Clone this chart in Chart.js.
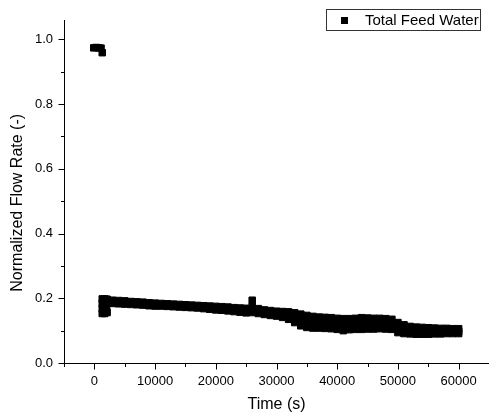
<!DOCTYPE html>
<html>
<head>
<meta charset="utf-8">
<script src="https://cdn.jsdelivr.net/npm/chart.js@4/dist/chart.umd.min.js"></script>
<style>
html,body{margin:0;padding:0;background:#fff;}
canvas{display:block;}
</style>
</head>
<body>
<canvas id="c" width="489" height="416"></canvas>
<script>
// ---- data ----
const seriesLabel = "Total Feed Water";
const xTitle = "Time (s)";
const yTitle = "Normalized Flow Rate (-)";
const xTickValues = [0, 10000, 20000, 30000, 40000, 50000, 60000];
const yTickValues = [0.0, 0.2, 0.4, 0.6, 0.8, 1.0];

// start-up points (near full flow)
const startTime = [-100, 300, 700, 1100, 1300];
const startFlow = [0.974, 0.975, 0.974, 0.973, 0.959];

// transient drop after start-up
const dropTime = [1300, 1300, 1300, 1300, 1700, 1700, 2100, 2100];
const dropFlow = [0.198, 0.184, 0.168, 0.153, 0.153, 0.198, 0.156, 0.197];

// main band (upper, middle and lower edges of the scatter)
const bandTime = [2000, 3000, 4000, 5000, 6000, 7000, 8000, 9000, 10000, 11000,
  12000, 13000, 14000, 15000, 16000, 17000, 18000, 19000, 20000, 21000,
  22000, 23000, 24000, 25000, 26000, 27000, 28000, 29000, 30000, 31000,
  32000, 33000, 34000, 35000, 36000, 37000, 38000, 39000, 40000, 41000,
  42000, 43000, 44000, 45000, 46000, 47000, 48000, 49000, 50000, 51000,
  52000, 53000, 54000, 55000, 56000, 57000, 58000, 59000, 60000];
const flowUpper = [0.196, 0.194, 0.193, 0.192, 0.190, 0.189, 0.188, 0.186, 0.185, 0.184,
  0.183, 0.182, 0.181, 0.180, 0.179, 0.178, 0.177, 0.176, 0.175, 0.174,
  0.173, 0.171, 0.170, 0.169, 0.194, 0.168, 0.164, 0.162, 0.160, 0.159,
  0.158, 0.155, 0.151, 0.147, 0.144, 0.142, 0.141, 0.140, 0.138, 0.137,
  0.137, 0.138, 0.140, 0.139, 0.138, 0.138, 0.137, 0.135, 0.125, 0.118,
  0.113, 0.111, 0.110, 0.109, 0.108, 0.107, 0.107, 0.106, 0.106];
const flowMid = [0.175, 0.189, 0.188, 0.187, 0.185, 0.184, 0.183, 0.181, 0.180, 0.180,
  0.179, 0.178, 0.177, 0.176, 0.175, 0.174, 0.172, 0.171, 0.169, 0.168,
  0.167, 0.165, 0.163, 0.162, 0.175, 0.160, 0.157, 0.155, 0.152, 0.150,
  0.146, 0.140, 0.133, 0.128, 0.126, 0.125, 0.124, 0.123, 0.121, 0.118,
  0.119, 0.121, 0.122, 0.122, 0.121, 0.121, 0.120, 0.119, 0.110, 0.104,
  0.101, 0.100, 0.099, 0.099, 0.099, 0.098, 0.099, 0.098, 0.098];
const flowLower = [0.160, 0.184, 0.183, 0.182, 0.181, 0.180, 0.179, 0.177, 0.176, 0.176,
  0.175, 0.174, 0.173, 0.172, 0.171, 0.170, 0.168, 0.166, 0.164, 0.163,
  0.161, 0.159, 0.157, 0.155, 0.156, 0.153, 0.150, 0.147, 0.145, 0.141,
  0.135, 0.125, 0.115, 0.110, 0.108, 0.108, 0.107, 0.106, 0.104, 0.100,
  0.103, 0.104, 0.104, 0.105, 0.105, 0.106, 0.105, 0.104, 0.094, 0.091,
  0.090, 0.089, 0.089, 0.089, 0.090, 0.090, 0.091, 0.091, 0.091];

// ---- build points ----
const points = [];
startTime.forEach((t, i) => points.push({x: t, y: startFlow[i]}));
dropTime.forEach((t, i) => points.push({x: t, y: dropFlow[i]}));
bandTime.forEach((t, i) => {
  points.push({x: t, y: flowUpper[i]});
  points.push({x: t, y: flowMid[i]});
  points.push({x: t, y: flowLower[i]});
});

const FONT = "'Liberation Sans', Arial, sans-serif";

const axesPlugin = {
  id: 'originAxes',
  afterDraw(chart) {
    const {ctx, chartArea: a, scales: {x, y}} = chart;
    ctx.save();
    ctx.strokeStyle = '#000';
    ctx.lineWidth = 1;
    ctx.beginPath();
    const ax = Math.round(a.left) + 0.5;
    const ay = Math.round(a.bottom) + 0.5;
    ctx.moveTo(ax, a.top);
    ctx.lineTo(ax, ay);
    ctx.lineTo(a.right, ay);
    for (let v = -5000; v <= 65000; v += 5000) {
      const px = Math.round(x.getPixelForValue(v)) + 0.5;
      if (px > a.right) continue;
      const len = (v % 10000 === 0) ? 6 : 3.5;
      ctx.moveTo(px, ay);
      ctx.lineTo(px, ay + len);
    }
    for (let k = 0; k <= 10; k++) {
      const v = k / 10;
      const py = Math.round(y.getPixelForValue(v)) + 0.5;
      const len = (k % 2 === 0) ? 6 : 3.5;
      ctx.moveTo(ax, py);
      ctx.lineTo(ax - len, py);
    }
    ctx.stroke();
    // y axis title (Origin centres it slightly below the middle of the axis)
    ctx.fillStyle = '#000';
    ctx.font = "16px " + FONT;
    ctx.textAlign = 'center';
    ctx.textBaseline = 'middle';
    ctx.translate(18, y.getPixelForValue(0.495));
    ctx.rotate(-Math.PI / 2);
    ctx.fillText(yTitle, 0, 0);
    ctx.restore();
  }
};

const legendPlugin = {
  id: 'boxLegend',
  afterDraw(chart) {
    const {ctx} = chart;
    const ds = chart.data.datasets[0];
    ctx.save();
    ctx.strokeStyle = '#333';
    ctx.lineWidth = 1;
    ctx.strokeRect(326.5, 9.5, 154, 21);
    ctx.fillStyle = '#000';
    ctx.fillRect(341, 17, 7, 7);
    ctx.font = "15px " + FONT;
    ctx.textBaseline = 'middle';
    ctx.textAlign = 'left';
    ctx.fillText(ds.label, 365, 21);
    ctx.restore();
  }
};

new Chart(document.getElementById('c'), {
  type: 'scatter',
  data: {
    datasets: [{
      label: seriesLabel,
      data: points,
      pointStyle: 'rect',
      pointRadius: 4.6,
      pointHoverRadius: 4.6,
      backgroundColor: '#000',
      borderColor: '#000',
      borderWidth: 1,
      showLine: false
    }]
  },
  options: {
    responsive: false,
    animation: false,
    events: [],
    layout: {autoPadding: false, padding: {top: 20, right: 0, left: 0, bottom: 0}},
    plugins: {
      legend: {display: false},
      tooltip: {enabled: false}
    },
    scales: {
      x: {
        type: 'linear',
        min: -5000,
        max: 65000,
        afterBuildTicks: s => { s.ticks = xTickValues.map(v => ({value: v})); },
        afterFit: s => { s.height = 53; s.paddingLeft = 0; s.paddingRight = 0; },
        grid: {display: false, drawTicks: false},
        border: {display: false},
        ticks: {
          color: '#000',
          font: {family: FONT, size: 13},
          padding: 11,
          maxRotation: 0,
          autoSkip: false,
          callback: v => String(v)
        },
        title: {
          display: true,
          text: xTitle,
          color: '#000',
          font: {family: FONT, size: 16},
          padding: {top: 0, bottom: 2}
        }
      },
      y: {
        type: 'linear',
        min: 0,
        max: 1.06,
        afterBuildTicks: s => { s.ticks = yTickValues.map(v => ({value: v})); },
        afterFit: s => { s.width = 64; s.paddingTop = 0; s.paddingBottom = 0; },
        grid: {display: false, drawTicks: false},
        border: {display: false},
        ticks: {
          color: '#000',
          font: {family: FONT, size: 13},
          padding: 11,
          autoSkip: false,
          callback: v => Number(v).toFixed(1)
        },
        title: {display: false, text: yTitle}
      }
    }
  },
  plugins: [axesPlugin, legendPlugin]
});
</script>
</body>
</html>
